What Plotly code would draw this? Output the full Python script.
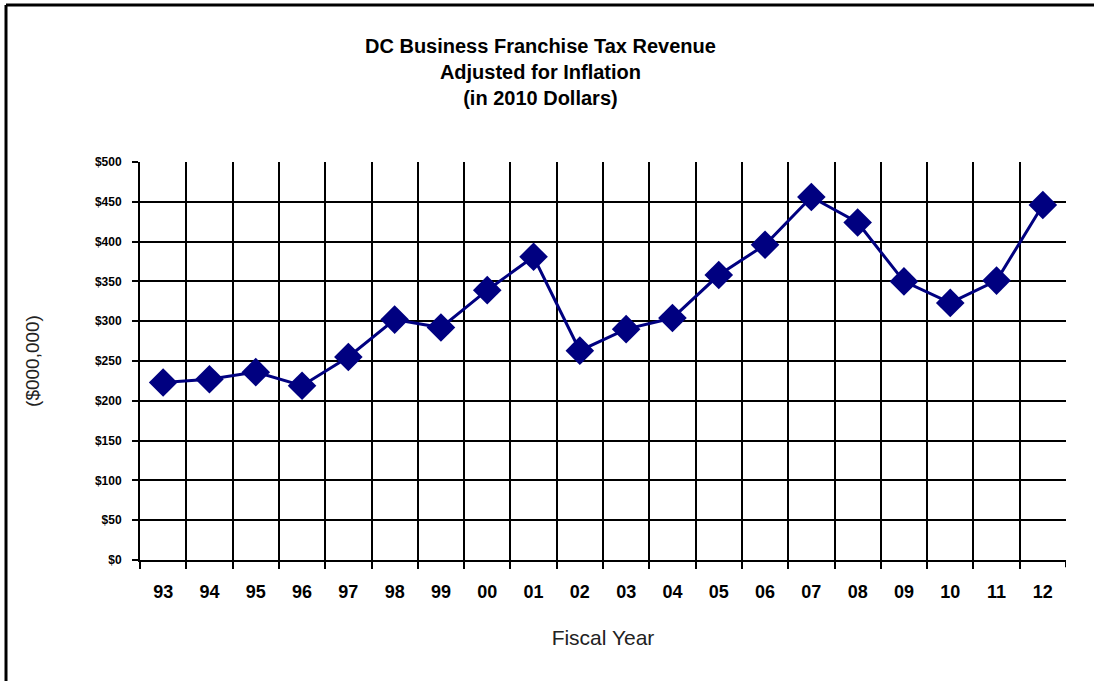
import plotly.graph_objects as go

# fiscal years and inflation-adjusted revenue ($000,000)
years = ["93", "94", "95", "96", "97", "98", "99", "00", "01", "02",
         "03", "04", "05", "06", "07", "08", "09", "10", "11", "12"]
revenue = [223, 227, 236, 219, 255, 302, 292, 339, 381, 263,
           290, 304, 358, 396, 456, 424, 350, 323, 351, 446]
y_ticks = [0, 50, 100, 150, 200, 250, 300, 350, 400, 450, 500]
y_labels = ["$" + str(v) for v in y_ticks]

pos = list(range(len(years)))
bounds = [p - 0.5 for p in pos]

fig = go.Figure()
fig.add_trace(go.Scatter(
    x=pos, y=revenue, mode="lines+markers",
    line=dict(color="#000080", width=3),
    marker=dict(symbol="diamond", size=22, color="#000080"),
    showlegend=False,
))

fig.update_xaxes(
    range=[-0.5, len(years) - 0.5],
    tickvals=pos, ticktext=years, ticks="", showgrid=False, ticklabelstandoff=14,
    tickfont=dict(family="Liberation Sans", size=18, color="black", weight="bold"),
    showline=True, linecolor="black", linewidth=2,
    minor=dict(tickvals=bounds, showgrid=True, gridcolor="black", gridwidth=2,
               ticks="outside", ticklen=7, tickcolor="black", tickwidth=2),
    title=dict(text="Fiscal Year", standoff=30,
               font=dict(family="Liberation Sans", size=21, color="#222")),
    zeroline=False,
)
fig.update_yaxes(
    range=[0, 500],
    tickvals=y_ticks, ticktext=y_labels, ticks="outside", ticklen=6,
    tickcolor="black", tickwidth=2, showgrid=False, ticklabelstandoff=8,
    tickfont=dict(family="Liberation Sans", size=12, color="black", weight="bold"),
    showline=True, linecolor="black", linewidth=2,
    minor=dict(tickvals=y_ticks[1:-1], showgrid=True, gridcolor="black", gridwidth=2, ticks=""),
    title=dict(text="($000,000)", standoff=50,
               font=dict(family="Liberation Sans", size=19, color="#222")),
    zeroline=False,
)

# tick at the far right end of the x axis
fig.add_shape(type="line", xref="x", yref="paper", x0=len(years) - 0.5, x1=len(years) - 0.5,
              y0=0, y1=-0.018, line=dict(color="black", width=2))

# outer frame (top and left edges)
fig.add_shape(type="line", xref="paper", yref="paper", x0=-0.1447, x1=1.04,
              y0=1.3945, y1=1.3945, line=dict(color="black", width=3))
fig.add_shape(type="line", xref="paper", yref="paper", x0=-0.1447, x1=-0.1447,
              y0=1.3945, y1=-0.32, line=dict(color="black", width=3))

fig.add_annotation(
    text="<b>DC Business Franchise Tax Revenue<br>Adjusted for Inflation<br>(in 2010 Dollars)</b>",
    xref="paper", yref="paper", x=0.433, y=1.128, xanchor="center", yanchor="bottom",
    showarrow=False, align="center",
    font=dict(family="Liberation Sans", size=20, color="black"),
)

fig.update_layout(
    width=1094, height=681, autosize=False,
    margin=dict(l=140, r=28, t=162, b=121),
    plot_bgcolor="white", paper_bgcolor="white",
)

fig.write_html("out.html", config={"displayModeBar": False},
               post_script="document.body.style.margin='0px';")
